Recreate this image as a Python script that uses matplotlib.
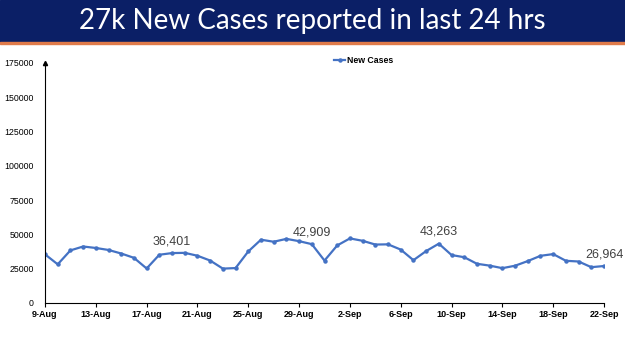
import matplotlib.pyplot as plt
from matplotlib.patches import Rectangle

# daily new cases, 9-Aug .. 22-Sep
dates = ["9-Aug", "10-Aug", "11-Aug", "12-Aug", "13-Aug", "14-Aug", "15-Aug", "16-Aug",
         "17-Aug", "18-Aug", "19-Aug", "20-Aug", "21-Aug", "22-Aug", "23-Aug", "24-Aug",
         "25-Aug", "26-Aug", "27-Aug", "28-Aug", "29-Aug", "30-Aug", "31-Aug", "1-Sep",
         "2-Sep", "3-Sep", "4-Sep", "5-Sep", "6-Sep", "7-Sep", "8-Sep", "9-Sep",
         "10-Sep", "11-Sep", "12-Sep", "13-Sep", "14-Sep", "15-Sep", "16-Sep", "17-Sep",
         "18-Sep", "19-Sep", "20-Sep", "21-Sep", "22-Sep"]
new_cases = [35499, 28204, 38353, 41195, 40120, 38667, 36083, 32937,
             25166, 35178, 36401, 36571, 34457, 30948, 25072, 25467,
             37593, 46164, 44658, 46759, 45083, 42909, 30941, 41965,
             47092, 45352, 42618, 42766, 38948, 31222, 37875, 43263,
             34973, 33376, 28591, 27254, 25404, 27176, 30570, 34403,
             35662, 30773, 30256, 26115, 26964]
labelled = ["19-Aug", "30-Aug", "9-Sep", "22-Sep"]
yticks = list(range(0, 175001, 25000))

fig = plt.figure(figsize=(6.25, 3.51), dpi=100)

# title banner
fig.patches.append(Rectangle((0, 1 - 42 / 351), 1, 42 / 351, transform=fig.transFigure,
                             color="#0b1f66", zorder=0))
fig.patches.append(Rectangle((0, 1 - 43.5 / 351), 1, 1.5 / 351, transform=fig.transFigure,
                             color="#e07b4a", zorder=0))
fig.text(0.5, 1 - 21 / 351, "27k New Cases reported in last 24 hrs", color="white",
         fontsize=20, family="Lato", ha="center", va="center")

ax = fig.add_axes([45 / 625, 1 - 303 / 351, 559 / 625, 240 / 351])
x = list(range(len(dates)))
ax.plot(x, new_cases, color="#4472c4", lw=1.6, marker="o", ms=2.2, label="New Cases")

for d in labelled:
    i = dates.index(d)
    ax.annotate(f"{new_cases[i]:,}", (i, new_cases[i]), xytext=(0, 12),
                textcoords="offset pixels", ha="center", va="center",
                fontsize=9, color="#404040", family="Liberation Sans")

ax.set_xlim(0, len(dates) - 1)
ax.set_ylim(0, 175000)
ax.set_xticks(x[::4])
ax.set_xticklabels(dates[::4], fontsize=6.5, fontweight="bold", family="Liberation Sans")
ax.set_yticks(yticks)
ax.set_yticklabels([str(v) for v in yticks], fontsize=6.3, family="Liberation Sans")
ax.tick_params(axis="y", length=0, pad=8)
ax.tick_params(axis="x", length=3, direction="out", pad=2)
for s in ["top", "right"]:
    ax.spines[s].set_visible(False)
ax.plot(0, 1, "^k", ms=3, transform=ax.transAxes, clip_on=False)

ax.legend(loc="center", bbox_to_anchor=(0.57, 1.01), frameon=False,
          handlelength=1.2, handletextpad=0.2,
          prop={"family": "Liberation Sans", "size": 6.3, "weight": "bold"})

fig.savefig("out.png", dpi=100)
